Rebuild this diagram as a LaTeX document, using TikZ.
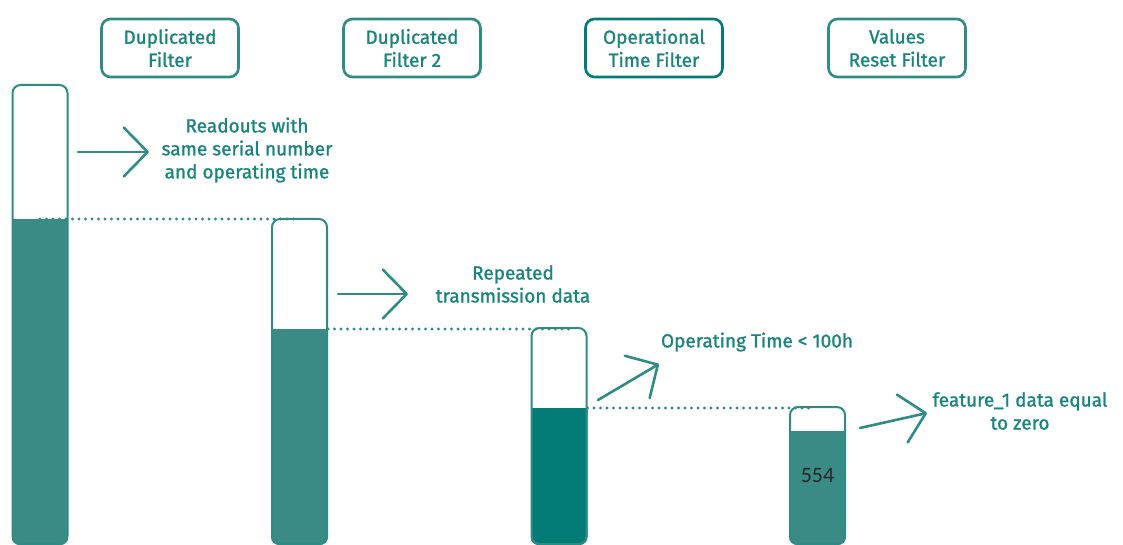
\documentclass[tikz,border=0pt]{standalone}
\usepackage{fontspec}
\setmainfont{Fira Sans}[FakeBold=1.3]
\newfontfamily\numfont{Carlito}
\usetikzlibrary{arrows.meta,backgrounds}
\definecolor{tealline}{HTML}{2E8B86}
\definecolor{tealtext}{HTML}{1A857F}
\definecolor{tealfill}{HTML}{3A8A86}
\definecolor{tealdeep}{HTML}{037B76}
\begin{document}
\begin{tikzpicture}[x=1pt,y=-1pt,
  hdr/.style={draw=tealline, line width=2.6pt, rounded corners=9pt,
    minimum width=137pt, minimum height=58pt, align=center, text=tealtext,
    font=\fontsize{19}{23}\selectfont},
  bar/.style={draw=tealline, line width=2pt, minimum width=55pt, inner sep=0pt,
    rounded corners=8pt},
  lvl/.style={draw=tealline, line width=3.2pt, line cap=round,
    dash pattern=on 0pt off 6.5pt},
  chev/.style={draw=tealline, line width=2.6pt, line cap=round,
    -{Straight Barb[length=24pt,width=49pt,line cap=round,line join=round]}},
  note/.style={text=tealtext, align=center,
    font=\fontsize{19}{23}\selectfont},
]
\useasboundingbox (0,0) rectangle (1123,545);

% filter headers
\node[hdr] (h1) at (170,48) {Duplicated\\Filter};
\node[hdr] (h2) at (412,48) {Duplicated\\Filter 2};
\node[hdr, draw=tealdeep] (h3) at (654,48) {Operational\\Time Filter};
\node[hdr] (h4) at (897,48) {Values\\Reset Filter};

% record-count bars
\node[bar, minimum height=459pt] (b1) at (40,314.5) {};
\node[bar, minimum height=325pt] (b2) at (299.5,381.5) {};
\node[bar, minimum height=216pt] (b3) at (559,436) {};
\node[bar, minimum height=137pt] (b4) at (817.5,475.5) {};

% remaining data inside each bar
\begin{scope}[on background layer]
  \begin{scope}
    \clip[rounded corners=8pt] (b1.north west) rectangle (b1.south east);
    \fill[tealfill] (b1.south west) rectangle (b1.east |- 0,219);
  \end{scope}
  \begin{scope}
    \clip[rounded corners=8pt] (b2.north west) rectangle (b2.south east);
    \fill[tealfill] (b2.south west) rectangle (b2.east |- 0,329);
  \end{scope}
  \begin{scope}
    \clip[rounded corners=8pt] (b3.north west) rectangle (b3.south east);
    \fill[tealdeep] (b3.south west) rectangle (b3.east |- 0,408);
  \end{scope}
  \begin{scope}
    \clip[rounded corners=8pt] (b4.north west) rectangle (b4.south east);
    \fill[tealfill] (b4.south west) rectangle (b4.east |- 0,431);
  \end{scope}
\end{scope}

\node[font=\numfont\fontsize{22}{24}\selectfont, text=black!85] (n554) at (817.5,476) {554};

% level guides
\coordinate (l1a) at (b1.center |- 0,219);
\coordinate (l1b) at (297,219);
\coordinate (l2a) at (b2.east |- 0,329);
\coordinate (l2b) at (575,329);
\coordinate (l3a) at (b3.east |- 0,408);
\coordinate (l3b) at (815,408);
\draw[lvl] (l1a) -- (l1b);
\draw[lvl] (l2a) -- (l2b);
\draw[lvl] (l3a) -- (l3b);

% removed records
\coordinate (a1s) at (78,152);
\coordinate (a1t) at (149,152);
\coordinate (a2s) at (338,294);
\coordinate (a2t) at (408,294);
\coordinate (a3s) at (598,400);
\coordinate (a3t) at (659,364);
\coordinate (a4s) at (860,428);
\coordinate (a4t) at (927,413);
\draw[chev] (a1s) -- (a1t);
\draw[chev] (a2s) -- (a2t);
\draw[chev] (a3s) -- (a3t);
\draw[chev] (a4s) -- (a4t);

\node[note] (t1) at (247,150) {Readouts with\\same serial number\\and operating time};
\node[note] (t2) at (513,284) {Repeated\\transmission data};
\node[note] (t3) at (757,342) {Operating Time < 100h};
\node[note] (t4) at (1020,411) {feature\_1 data equal\\to zero};
\end{tikzpicture}
\end{document}
